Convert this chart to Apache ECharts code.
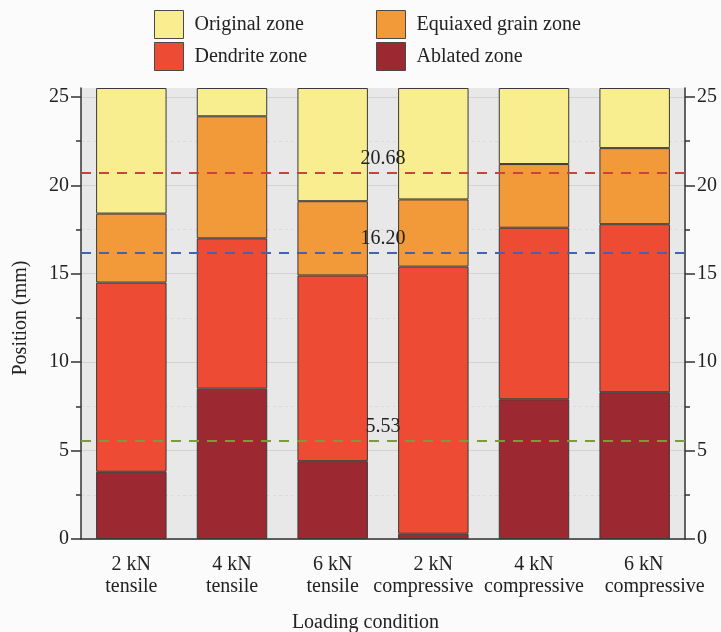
<!DOCTYPE html>
<html>
<head>
<meta charset="utf-8">
<script src="https://cdn.jsdelivr.net/npm/echarts@6/dist/echarts.min.js"></script>
<style>
  html, body { margin: 0; padding: 0; background: #fbfbfb; }
  #chart { width: 721px; height: 632px; }
</style>
</head>
<body>
<div id="chart"></div>
<script>
// Loading conditions along the x axis
const categories = ['2 kN\ntensile', '4 kN\ntensile', '6 kN\ntensile',
                    '2 kN\ncompressive', '4 kN\ncompressive', '6 kN\ncompressive'];

// Upper boundary (mm) of each zone, measured from the bottom of the sample
const ablatedTop  = [3.8, 8.5, 4.4, 0.3, 7.9, 8.3];
const dendriteTop = [14.5, 17.0, 14.9, 15.4, 17.6, 17.8];
const equiaxedTop = [18.4, 23.9, 19.1, 19.2, 21.2, 22.1];
const originalTop = [25.5, 25.5, 25.5, 25.5, 25.5, 25.5];

// Reference positions (mm)
const refLines = [20.68, 16.20, 5.53];

// Axis ticks
const majorTicks = [0, 5, 10, 15, 20, 25];
const minorTicks = [2.5, 7.5, 12.5, 17.5, 22.5];

const zoneNames = ['Ablated zone', 'Dendrite zone', 'Equiaxed grain zone', 'Original zone'];
const zoneColors = ['#9c2832', '#ee4b34', '#f29a39', '#f8ee90'];
const refColors = ['#c8433d', '#4362b4', '#7d9a3c'];

const tops = [ablatedTop, dendriteTop, equiaxedTop, originalTop];
const thickness = tops.map((arr, i) =>
  arr.map((v, j) => +(v - (i === 0 ? 0 : tops[i - 1][j])).toFixed(3)));

const FONT = 'Liberation Serif';
const TXT = '#222';

// The long "compressive" labels are nudged sideways so neighbours do not touch
const lineStyleKeys = {
  3: ['n', 'l10'],
  5: ['r10', 'r20']
};

function categoryLabel(value, index) {
  const keys = lineStyleKeys[index] || ['n', 'n'];
  return value.split('\n').map((line, k) => '{' + keys[k] + '|' + line + '}').join('\n');
}

const labelRich = {
  n:   { fontFamily: FONT, fontSize: 20, color: TXT, lineHeight: 22 },
  l10: { fontFamily: FONT, fontSize: 20, color: TXT, lineHeight: 22, padding: [0, 20, 0, 0] },
  r10: { fontFamily: FONT, fontSize: 20, color: TXT, lineHeight: 22, padding: [0, 0, 0, 18] },
  r20: { fontFamily: FONT, fontSize: 20, color: TXT, lineHeight: 22, padding: [0, 0, 0, 40] }
};

const series = zoneNames.map((name, i) => ({
  name: name,
  type: 'bar',
  stack: 'zones',
  barWidth: '70%',
  data: thickness[i],
  itemStyle: { color: zoneColors[i], borderColor: '#3a3a3a', borderWidth: 1 }
}));

// Dashed reference lines drawn above the bars
series.push({
  name: 'ref',
  type: 'line',
  data: [],
  z: 10,
  markLine: {
    silent: true,
    symbol: 'none',
    data: refLines.map((v, i) => ({
      yAxis: v,
      lineStyle: { color: refColors[i], type: [10, 8], width: 2 }
    })),
    label: {
      show: true,
      position: 'middle',
      distance: 4,
      fontFamily: FONT,
      fontSize: 20,
      color: TXT,
      formatter: p => p.value.toFixed(2)
    }
  }
});

function legendAt(name, left, top) {
  return {
    data: [name],
    left: left,
    top: top,
    icon: 'rect',
    itemWidth: 29,
    itemHeight: 28,
    itemStyle: { borderColor: '#4a4a4a', borderWidth: 1 },
    textStyle: { fontFamily: FONT, fontSize: 20, color: TXT, padding: [0, 0, 0, 6] },
    selectedMode: false
  };
}

function valueAxis(position, withGrid) {
  return {
    type: 'value',
    position: position,
    min: 0,
    max: 25.5,
    interval: 5,
    axisLine: { show: true, lineStyle: { color: '#333', width: 1.5 } },
    axisTick: { show: true, length: 10, customValues: majorTicks, lineStyle: { color: '#333', width: 1.5 } },
    axisLabel: { customValues: majorTicks, fontFamily: FONT, fontSize: 20, color: TXT, margin: 12 },
    splitLine: { show: withGrid, lineStyle: { color: '#d2d2d2', width: 1 } }
  };
}

function minorAxis(position, withGrid) {
  return {
    type: 'value',
    position: position,
    min: 0,
    max: 25.5,
    interval: 2.5,
    axisLine: { show: false },
    axisTick: { show: true, length: 5, customValues: minorTicks, lineStyle: { color: '#333', width: 1.5 } },
    axisLabel: { show: false },
    splitLine: { show: withGrid, lineStyle: { color: '#dadada', width: 1, type: [3, 3] } }
  };
}

const option = {
  backgroundColor: '#fbfbfb',
  animation: false,
  textStyle: { fontFamily: FONT },
  legend: [
    legendAt('Original zone', 149, 5),
    legendAt('Equiaxed grain zone', 371, 5),
    legendAt('Dendrite zone', 149, 37),
    legendAt('Ablated zone', 371, 37)
  ],
  grid: {
    left: 81, right: 36, top: 88, bottom: 93,
    outerBoundsMode: 'none',
    containLabel: false,
    show: true, backgroundColor: '#e8e8e8', borderWidth: 0
  },
  xAxis: [
    {
      type: 'category',
      data: categories,
      boundaryGap: true,
      name: 'Loading condition',
      nameLocation: 'middle',
      nameGap: 74,
      nameTextStyle: { fontFamily: FONT, fontSize: 20, color: TXT, padding: [0, 35, 0, 0] },
      axisLine: { lineStyle: { color: '#333', width: 1.5 } },
      axisTick: { alignWithLabel: true, length: 8, lineStyle: { color: '#333', width: 1.5 } },
      axisLabel: {
        interval: 0, margin: 15, color: TXT,
        formatter: categoryLabel,
        rich: labelRich
      }
    },
    {
      type: 'category',
      data: categories,
      position: 'bottom',
      boundaryGap: true,
      axisLine: { show: false },
      axisTick: { length: 4, lineStyle: { color: '#333', width: 1.5 } },
      axisLabel: { show: false }
    }
  ],
  yAxis: [
    Object.assign(valueAxis('left', true), {
      name: 'Position (mm)',
      nameLocation: 'middle',
      nameGap: 50,
      nameTextStyle: { fontFamily: FONT, fontSize: 20, color: TXT, padding: [0, 9, 0, 0] }
    }),
    valueAxis('right', false),
    minorAxis('left', true),
    minorAxis('right', false)
  ],
  series: series
};

const chart = echarts.init(document.getElementById('chart'), null, { renderer: 'canvas' });
chart.setOption(option);
</script>
</body>
</html>
